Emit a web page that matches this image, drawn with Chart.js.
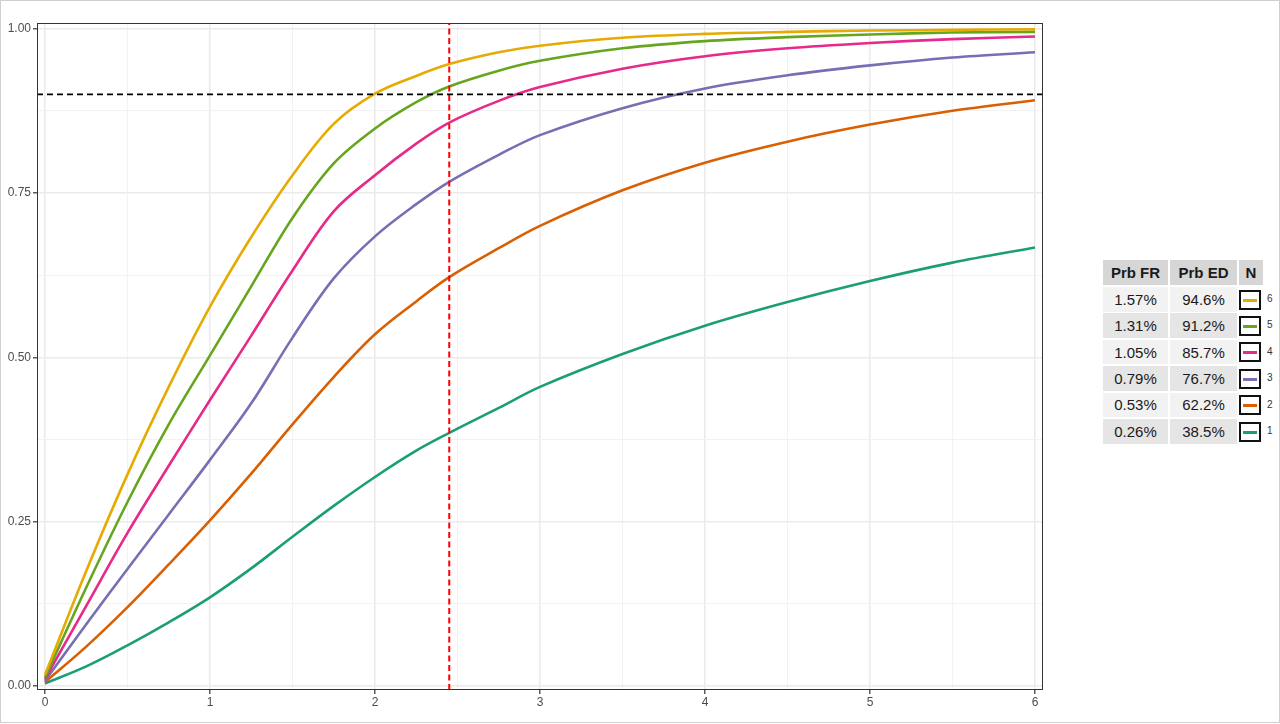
<!DOCTYPE html>
<html>
<head>
<meta charset="utf-8">
<script src="https://cdn.jsdelivr.net/npm/chart.js@4"></script>
<style>
  html, body { margin: 0; padding: 0; background: #fff; }
  #frame { position: absolute; left: 0; top: 0; width: 1278px; height: 721px; border: 1px solid #cfcfcf; }
  #c { position: absolute; left: 0; top: 0; }
  .cell { position: absolute; display: flex; align-items: center; justify-content: center;
          font-family: 'Liberation Sans', Arial, sans-serif; font-size: 15px; color: #1a1a1a; }
  .head { font-weight: bold; background: #d6d6d6; }
  .key { position: absolute; box-sizing: border-box; border: 2px solid #111; background: #fff; }
  .key span { position: absolute; left: 2px; right: 2px; top: 7px; height: 3px; }
  .klab { position: absolute; font-family: 'Liberation Sans', Arial, sans-serif; font-size: 10px; color: #333; }
</style>
</head>
<body>
<div id="frame"></div>
<canvas id="c" width="1060" height="724"></canvas>
<div id="tbl"></div>
<script>
// x positions where the curves were read
const xs = [0, 0.25, 0.5, 0.75, 1, 1.25, 1.5, 1.75, 2, 2.25, 2.45, 2.75, 3, 3.5, 4, 4.5, 5, 5.5, 6];

// one array per N
const n1 = [0.004, 0.030, 0.062, 0.097, 0.135, 0.179, 0.227, 0.274, 0.318, 0.358, 0.385, 0.423, 0.455, 0.505, 0.548, 0.584, 0.616, 0.644, 0.667];
const n2 = [0.006, 0.060, 0.120, 0.185, 0.252, 0.323, 0.398, 0.470, 0.535, 0.585, 0.622, 0.666, 0.700, 0.754, 0.796, 0.828, 0.854, 0.875, 0.891];
const n3 = [0.008, 0.094, 0.178, 0.261, 0.344, 0.430, 0.530, 0.620, 0.684, 0.733, 0.767, 0.808, 0.838, 0.879, 0.909, 0.929, 0.944, 0.956, 0.964];
const n4 = [0.011, 0.122, 0.233, 0.335, 0.435, 0.533, 0.632, 0.722, 0.777, 0.825, 0.857, 0.890, 0.911, 0.939, 0.958, 0.970, 0.978, 0.984, 0.988];
const n5 = [0.013, 0.150, 0.280, 0.398, 0.503, 0.608, 0.712, 0.795, 0.848, 0.888, 0.912, 0.936, 0.951, 0.970, 0.981, 0.987, 0.991, 0.994, 0.995];
const n6 = [0.017, 0.175, 0.322, 0.455, 0.577, 0.683, 0.777, 0.855, 0.901, 0.928, 0.946, 0.964, 0.974, 0.986, 0.992, 0.995, 0.997, 0.998, 0.999];

const nLabels = ['1', '2', '3', '4', '5', '6'];
const nColors = ['#1B9E77', '#D95F02', '#7570B3', '#E7298A', '#66A61E', '#E6AB02'];
const prbFR = ['0.26%', '0.53%', '0.79%', '1.05%', '1.31%', '1.57%'];
const prbED = ['38.5%', '62.2%', '76.7%', '85.7%', '91.2%', '94.6%'];

const xTicks = [0, 1, 2, 3, 4, 5, 6];
const yTicks = [0, 0.25, 0.5, 0.75, 1];
const threshold = 0.9;
const cutoff = 2.45;

const xMin = -0.0485, xMax = 6.0485;
const yMin = -0.006, yMax = 1.0085;

const series = [n1, n2, n3, n4, n5, n6];

const datasets = [
  {
    data: [{x: xMin, y: threshold}, {x: xMax, y: threshold}],
    borderColor: '#000', borderWidth: 1.6, borderDash: [6, 4], pointRadius: 0, order: 0
  },
  {
    data: [{x: cutoff, y: yMin}, {x: cutoff, y: yMax}],
    borderColor: '#ff0000', borderWidth: 2, borderDash: [6, 3.5], pointRadius: 0, order: 0
  }
];
series.forEach(function (s, i) {
  datasets.push({
    label: nLabels[i],
    data: xs.map(function (x, j) { return {x: x, y: s[j]}; }),
    borderColor: nColors[i],
    borderWidth: 2.6,
    pointRadius: 0,
    tension: 0.35,
    order: 7 - i
  });
});

function isMajor(list, v) {
  return list.some(function (t) { return Math.abs(t - v) < 1e-9; });
}

const panelBorder = {
  id: 'panelBorder',
  afterDraw: function (chart) {
    const a = chart.chartArea, c = chart.ctx;
    c.save();
    c.strokeStyle = '#333';
    c.lineWidth = 1;
    c.strokeRect(Math.round(a.left) + 0.5, Math.round(a.top) + 0.5, Math.round(a.right - a.left) - 1, Math.round(a.bottom - a.top) - 1);
    c.restore();
  }
};

const tickFont = { family: "'Liberation Sans', Arial, sans-serif", size: 12 };

new Chart(document.getElementById('c'), {
  type: 'line',
  data: { datasets: datasets },
  options: {
    responsive: false,
    animation: false,
    devicePixelRatio: 1,
    layout: { padding: { top: 23, right: 17, left: 0, bottom: 0 } },
    plugins: { legend: { display: false }, tooltip: { enabled: false } },
    scales: {
      x: {
        type: 'linear',
        min: xMin, max: xMax,
        afterFit: function (s) { s.height = 34; },
        afterBuildTicks: function (s) {
          const t = [];
          for (let v = 0; v <= 6.0001; v += 0.5) t.push({value: v});
          s.ticks = t;
        },
        border: { display: false },
        grid: {
          color: function (ctx) { return isMajor(xTicks, ctx.tick.value) ? '#EBEBEB' : '#F2F2F2'; },
          lineWidth: function (ctx) { return isMajor(xTicks, ctx.tick.value) ? 1.6 : 1; },
          tickColor: function (ctx) { return isMajor(xTicks, ctx.tick.value) ? '#333' : 'rgba(0,0,0,0)'; },
          tickLength: 4,
          tickWidth: 1.2
        },
        ticks: {
          autoSkip: false,
          maxRotation: 0,
          padding: 1,
          color: '#4D4D4D',
          font: tickFont,
          callback: function (v) { return isMajor(xTicks, v) ? String(Math.round(v)) : ''; }
        }
      },
      y: {
        type: 'linear',
        min: yMin, max: yMax,
        afterFit: function (s) { s.width = 37; },
        afterBuildTicks: function (s) {
          const t = [];
          for (let v = 0; v <= 1.0001; v += 0.125) t.push({value: v});
          s.ticks = t;
        },
        border: { display: false },
        grid: {
          color: function (ctx) { return isMajor(yTicks, ctx.tick.value) ? '#EBEBEB' : '#F2F2F2'; },
          lineWidth: function (ctx) { return isMajor(yTicks, ctx.tick.value) ? 1.6 : 1; },
          tickColor: function (ctx) { return isMajor(yTicks, ctx.tick.value) ? '#333' : 'rgba(0,0,0,0)'; },
          tickLength: 4,
          tickWidth: 1.2
        },
        ticks: {
          autoSkip: false,
          padding: 2,
          color: '#4D4D4D',
          font: tickFont,
          callback: function (v) { return isMajor(yTicks, v) ? v.toFixed(2) : ''; }
        }
      }
    }
  },
  plugins: [panelBorder]
});

// side table: Prb FR / Prb ED / N
(function () {
  const tbl = document.getElementById('tbl');
  const cols = [{l: 1103, w: 65}, {l: 1170, w: 67}, {l: 1239, w: 24}];
  const heads = ['Prb FR', 'Prb ED', 'N'];
  function cell(txt, l, t, w, h, cls, bg) {
    const d = document.createElement('div');
    d.className = 'cell ' + (cls || '');
    d.style.left = l + 'px'; d.style.top = t + 'px';
    d.style.width = w + 'px'; d.style.height = h + 'px';
    if (bg) d.style.background = bg;
    d.textContent = txt;
    tbl.appendChild(d);
  }
  heads.forEach(function (h, i) { cell(h, cols[i].l, 260, cols[i].w, 25, 'head'); });
  for (let r = 0; r < 6; r++) {
    const i = 5 - r;
    const top = 287 + r * 26.4;
    const bg = r % 2 === 0 ? '#F2F2F2' : '#E5E5E5';
    cell(prbFR[i], cols[0].l, top, cols[0].w, 24.5, '', bg);
    cell(prbED[i], cols[1].l, top, cols[1].w, 24.5, '', bg);
    const k = document.createElement('div');
    k.className = 'key';
    k.style.left = '1239px'; k.style.top = (top + 2.5) + 'px';
    k.style.width = '22px'; k.style.height = '20px';
    const ln = document.createElement('span');
    ln.style.background = nColors[i];
    k.appendChild(ln);
    tbl.appendChild(k);
    const lab = document.createElement('div');
    lab.className = 'klab';
    lab.style.left = '1267px'; lab.style.top = (top + 6) + 'px';
    lab.textContent = nLabels[i];
    tbl.appendChild(lab);
  }
})();
</script>
</body>
</html>
